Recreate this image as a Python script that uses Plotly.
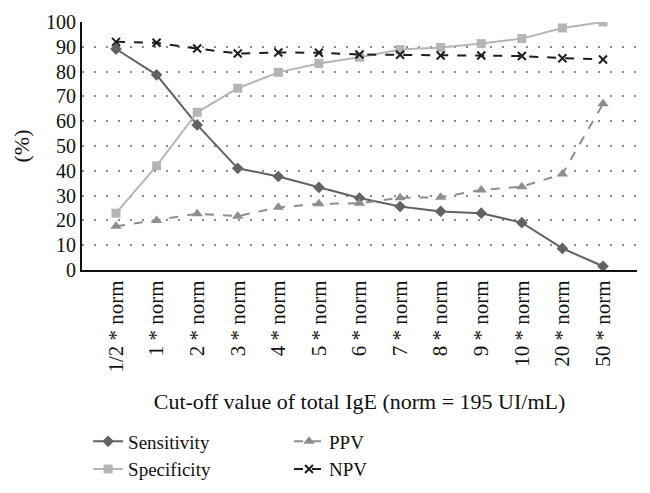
import plotly.graph_objects as go

categories = ["1/2 * norm", "1 * norm", "2 * norm", "3 * norm", "4 * norm", "5 * norm",
              "6 * norm", "7 * norm", "8 * norm", "9 * norm", "10 * norm", "20 * norm", "50 * norm"]
sensitivity = [89.1, 78.7, 58.5, 41.0, 37.7, 33.3, 29.0, 25.6, 23.6, 22.9, 19.1, 8.7, 1.5]
specificity = [22.9, 42.0, 63.6, 73.3, 79.7, 83.3, 85.8, 88.9, 89.7, 91.3, 93.3, 97.6, 100.0]
ppv = [17.6, 20.0, 22.7, 21.7, 25.3, 26.7, 26.9, 29.1, 29.3, 32.3, 33.6, 38.7, 67.0]
npv = [92.0, 91.6, 89.3, 87.3, 87.7, 87.6, 86.9, 86.8, 86.5, 86.5, 86.3, 85.4, 84.9]

FONT = "Liberation Serif"

fig = go.Figure()
fig.add_trace(go.Scatter(x=categories, y=sensitivity, name="Sensitivity", mode="lines+markers",
                         line=dict(color="#626262", width=2),
                         marker=dict(symbol="diamond", size=9, color="#626262"), legend="legend"))
fig.add_trace(go.Scatter(x=categories, y=specificity, name="Specificity", mode="lines+markers",
                         line=dict(color="#b5b5b5", width=2),
                         marker=dict(symbol="square", size=9, color="#b5b5b5"), legend="legend"))
fig.add_trace(go.Scatter(x=categories, y=ppv, name="PPV", mode="lines+markers",
                         line=dict(color="#8e8e8e", width=2, dash="dash"),
                         marker=dict(symbol="triangle-up", size=10, color="#8e8e8e"), legend="legend2"))
fig.add_trace(go.Scatter(x=categories, y=npv, name="NPV", mode="lines+markers",
                         line=dict(color="#1e1e1e", width=2, dash="dash"),
                         marker=dict(symbol="x-thin-open", size=8, line=dict(color="#1e1e1e", width=2)),
                         legend="legend2"))

fig.update_layout(
    width=642, height=485,
    margin=dict(l=74, r=13, t=14, b=223, autoexpand=False),
    paper_bgcolor="white", plot_bgcolor="white",
    font=dict(family=FONT, size=20, color="#111111"),
    xaxis=dict(tickangle=-90, showline=True, linecolor="#111111", linewidth=2,
               showgrid=False, ticks="", tickfont=dict(size=21), automargin=False,
               title=dict(text="Cut-off value of total IgE (norm = 195 UI/mL)", font=dict(size=22), standoff=22)),
    yaxis=dict(range=[0, 100], dtick=10, showline=True, linecolor="#111111", linewidth=2,
               showgrid=True, gridcolor="#8a8a8a", griddash="2px,10px", gridwidth=1.5, automargin=False,
               zeroline=False, ticks="", tickfont=dict(size=20),
               title=dict(text="(%)", font=dict(size=22), standoff=10)),
    legend=dict(x=0.011, y=-0.615, xanchor="left", yanchor="top", xref="paper", yref="paper",
                font=dict(size=19), tracegroupgap=0, itemwidth=30, bgcolor="rgba(0,0,0,0)"),
    legend2=dict(x=0.373, y=-0.615, xanchor="left", yanchor="top", xref="paper", yref="paper",
                 font=dict(size=19), tracegroupgap=0, itemwidth=30, bgcolor="rgba(0,0,0,0)"),
    showlegend=True,
)

fig.write_html("out.html")
